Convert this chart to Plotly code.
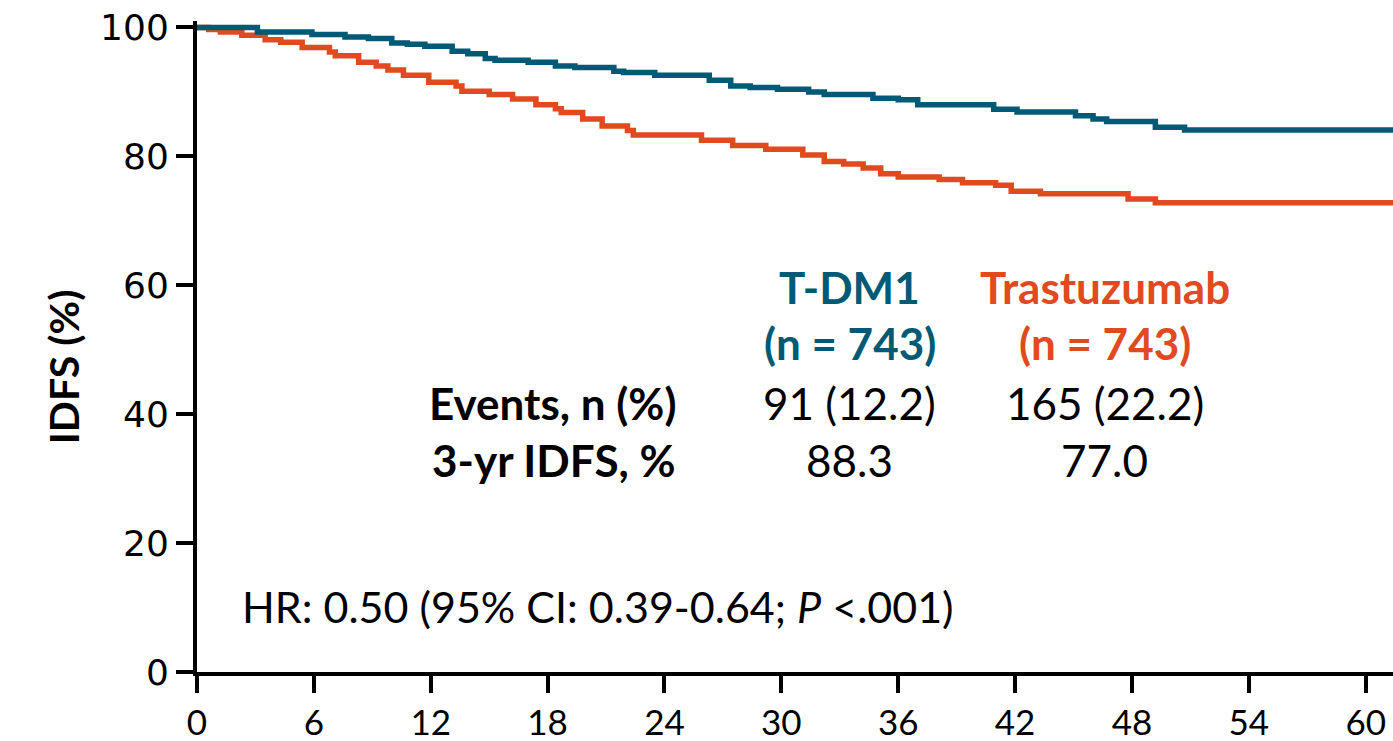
import plotly.graph_objects as go

# Kaplan-Meier step estimates (months, % event-free)
tdm1_months = [0, 3.1, 5.9, 7.6, 8.8, 10.0, 10.8, 11.7, 13.1, 13.9, 14.8, 15.3, 17.0, 18.4,
               19.4, 21.4, 21.9, 23.5, 26.3, 27.4, 28.4, 29.8, 31.4, 32.2, 34.7, 36.0, 37.0,
               40.9, 42.1, 45.1, 46.0, 46.7, 49.2, 50.7, 61.4]
tdm1_idfs = [100, 99.3, 98.9, 98.5, 98.3, 97.6, 97.4, 97.1, 96.3, 95.9, 95.2, 94.9, 94.6, 94.0,
             93.8, 93.2, 93.0, 92.6, 91.8, 90.9, 90.7, 90.4, 90.0, 89.6, 89.0, 88.8, 88.0,
             87.3, 86.9, 86.3, 85.8, 85.4, 84.5, 84.1, 84.1]

trast_months = [0, 0.6, 1.2, 2.3, 3.5, 4.3, 5.4, 6.8, 7.1, 8.3, 9.2, 9.8, 10.6, 11.9, 13.3,
                13.6, 15.0, 16.2, 17.4, 18.4, 18.7, 19.8, 20.8, 22.1, 22.4, 25.9, 27.5, 29.2,
                31.1, 32.2, 33.2, 34.2, 35.1, 36.0, 38.1, 39.3, 41.0, 41.8, 43.3, 47.8, 49.2, 61.4]
trast_idfs = [100, 99.7, 99.3, 98.8, 98.1, 97.7, 96.9, 96.2, 95.6, 94.6, 94.0, 93.4, 92.6, 91.5,
              90.9, 90.1, 89.6, 88.9, 88.0, 87.4, 86.8, 85.8, 84.7, 84.0, 83.3, 82.5, 81.7, 81.1,
              80.2, 79.2, 78.8, 78.2, 77.3, 76.8, 76.4, 75.9, 75.5, 74.6, 74.2, 73.4, 72.8, 72.8]

x_ticks = [0, 6, 12, 18, 24, 30, 36, 42, 48, 54, 60]
y_ticks = [0, 20, 40, 60, 80, 100]

arms = ["T-DM1", "Trastuzumab"]
arm_n = ["(n = 743)", "(n = 743)"]
events = ["91 (12.2)", "165 (22.2)"]
idfs_3yr = ["88.3", "77.0"]
hr_text = "HR: 0.50 (95% CI: 0.39-0.64; <i>P</i> <.001)"

BLUE = "#005A75"
ORANGE = "#E14A1E"
TXT_FONT = "Lato"
TXT_SIZE = 44

fig = go.Figure()
fig.add_trace(go.Scatter(x=trast_months, y=trast_idfs, mode="lines", line_shape="hv",
                         line=dict(color=ORANGE, width=5.5), name=arms[1]))
fig.add_trace(go.Scatter(x=tdm1_months, y=tdm1_idfs, mode="lines", line_shape="hv",
                         line=dict(color=BLUE, width=5.5), name=arms[0]))

col_x = [33.5, 46.6]
colors = [BLUE, ORANGE]
ann = []
for i in range(2):
    ann.append(dict(x=col_x[i], y=59.7, text=f"<b>{arms[i]}</b>", showarrow=False,
                    font=dict(family=TXT_FONT, size=TXT_SIZE, color=colors[i])))
    ann.append(dict(x=col_x[i], y=51.0, text=f"<b>{arm_n[i]}</b>", showarrow=False,
                    font=dict(family=TXT_FONT, size=TXT_SIZE, color=colors[i])))
    ann.append(dict(x=col_x[i], y=41.8, text=events[i], showarrow=False,
                    font=dict(family=TXT_FONT, size=TXT_SIZE, color="black")))
    ann.append(dict(x=col_x[i], y=32.9, text=idfs_3yr[i], showarrow=False,
                    font=dict(family=TXT_FONT, size=TXT_SIZE, color="black")))
ann.append(dict(x=24.7, y=41.8, text="<b>Events, n (%)</b>", showarrow=False, xanchor="right",
                font=dict(family=TXT_FONT, size=TXT_SIZE, color="black")))
ann.append(dict(x=24.7, y=32.9, text="<b>3-yr IDFS, %</b>", showarrow=False, xanchor="right",
                font=dict(family=TXT_FONT, size=TXT_SIZE, color="black")))
ann.append(dict(x=2.2, y=10.1, text=hr_text, showarrow=False, xanchor="left",
                font=dict(family=TXT_FONT, size=43, color="black")))
ann.append(dict(xref="paper", x=-0.134, yref="y", y=47.3, text="<b>IDFS (%)</b>",
                textangle=-90, showarrow=False,
                font=dict(family=TXT_FONT, size=41, color="black")))
for a in ann:
    a.setdefault("xref", "x")
    a.setdefault("yref", "y")

fig.update_layout(
    width=1393, height=741,
    margin=dict(l=197, r=0, t=21, b=69),
    paper_bgcolor="white", plot_bgcolor="white",
    showlegend=False,
    annotations=ann,
    xaxis=dict(range=[0, 61.4], tickvals=x_ticks, ticktext=[str(v) for v in x_ticks],
               automargin=False,
               showgrid=False, zeroline=False, showline=True, linecolor="black", linewidth=4,
               ticks="outside", ticklen=17, tickwidth=4, tickcolor="black",
               tickfont=dict(family=TXT_FONT, size=35, color="black")),
    yaxis=dict(range=[0, 101], tickvals=y_ticks, ticktext=[str(v) for v in y_ticks],
               automargin=False,
               showgrid=False, zeroline=False, showline=True, linecolor="black", linewidth=4,
               ticks="outside", ticklen=17, tickwidth=4, tickcolor="black",
               tickfont=dict(family="DejaVu Sans", size=36, color="black")),
)

fig.write_html("out.html")
